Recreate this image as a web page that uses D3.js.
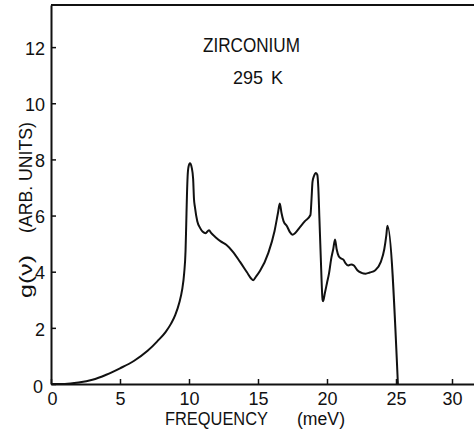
<!DOCTYPE html>
<html>
<head>
<meta charset="utf-8">
<script src="https://cdn.jsdelivr.net/npm/d3@7"></script>
<style>
  html, body { margin: 0; padding: 0; background: #fff; }
  svg { display: block; }
  text { font-family: "Liberation Sans", Arial, sans-serif; fill: #111; }
</style>
</head>
<body>
<svg id="chart" width="474" height="434"></svg>
<script>
// ---- data ----
const freq = [0, 1.0, 2.0, 3.0, 4.0, 5.0, 6.0, 7.0, 7.7, 8.3, 8.7, 9.0, 9.3, 9.5, 9.65, 9.75, 9.8, 9.85, 9.9,
  9.97, 10.07, 10.2, 10.3, 10.36, 10.43, 10.6, 10.8, 11.0, 11.2, 11.45, 11.6, 11.9, 12.3, 12.7, 13.2, 13.7,
  14.2, 14.5, 14.65, 14.85, 15.15, 15.75, 16.2, 16.45, 16.58, 16.7, 16.85, 17.1, 17.3, 17.5, 17.7, 18.0,
  18.4, 18.8, 18.88, 18.95, 19.05, 19.2, 19.3, 19.37, 19.45, 19.55, 19.68, 19.72, 19.85, 20.0, 20.15, 20.3,
  20.45, 20.58, 20.7, 20.85, 21.0, 21.2, 21.35, 21.55, 21.75, 21.95, 22.2, 22.5, 22.8, 23.1, 23.5, 23.9,
  24.15, 24.3, 24.38, 25.17];
const gnu = [0, 0.0, 0.05, 0.15, 0.33, 0.56, 0.82, 1.18, 1.52, 1.85, 2.15, 2.45, 2.9, 3.35, 3.95, 4.75, 5.7, 6.7, 7.4,
  7.75, 7.86, 7.7, 7.3, 6.6, 6.3, 5.8, 5.56, 5.42, 5.37, 5.48, 5.38, 5.24, 5.08, 4.96, 4.7, 4.35,
  3.98, 3.76, 3.7, 3.82, 4.03, 4.67, 5.45, 6.1, 6.43, 6.1, 5.8, 5.62, 5.42, 5.32, 5.38, 5.56,
  5.8, 6.02, 6.6, 7.2, 7.4, 7.52, 7.45, 7.0, 5.9, 4.5, 3.0, 2.95, 3.25, 3.6, 3.95, 4.45,
  4.8, 5.15, 4.8, 4.55, 4.48, 4.42, 4.3, 4.22, 4.26, 4.22, 4.05, 3.96, 3.93, 3.97, 4.05, 4.35,
  4.8, 5.3, 5.64, 0];
const xTicks = [0, 5, 10, 15, 20, 25, 30];
const yTicks = [0, 2, 4, 6, 8, 10, 12];
const titleLines = ["ZIRCONIUM", "295 K"];
const xLabelParts = ["FREQUENCY", "(meV)"];
const yLabelParts = ["g(\u03BD)", "(ARB. UNITS)"];

// ---- scales ----
const svg = d3.select("#chart");
const x = d3.scaleLinear().domain([0, 25, 30, 31.6]).range([51, 396, 452, 474]);
const y = d3.scaleLinear().domain([0, 13.5]).range([384, 5]);

const ink = "#111";

// bottom axis
const gx = svg.append("g").attr("transform", `translate(0,${y(0)})`)
  .call(d3.axisBottom(x).tickValues(xTicks).tickSize(-5).tickSizeOuter(0).tickPadding(8).tickFormat(d3.format("d")));
gx.select(".domain").attr("stroke", ink).attr("stroke-width", 2);
gx.selectAll(".tick line").attr("stroke", ink).attr("stroke-width", 1.5);
gx.selectAll(".tick text").attr("font-size", 18).attr("fill", ink)
  .style("font-family", "'Liberation Sans', Arial, sans-serif");
gx.selectAll(".tick").filter(d => d === 0).select("text").attr("dx", 1);

// left axis
const gy = svg.append("g").attr("transform", `translate(${x(0)},0)`)
  .call(d3.axisLeft(y).tickValues(yTicks).tickSize(-5).tickSizeOuter(0).tickPadding(6).tickFormat(d3.format("d")));
gy.select(".domain").attr("stroke", ink).attr("stroke-width", 2);
gy.selectAll(".tick line").attr("stroke", ink).attr("stroke-width", 1.5);
gy.selectAll(".tick text").attr("font-size", 18).attr("fill", ink).attr("dy", "0.4em")
  .style("font-family", "'Liberation Sans', Arial, sans-serif");
gy.selectAll(".tick").filter(d => d === 0).select("text").attr("dx", -2).attr("dy", "0.45em");

// top frame line
svg.append("line")
  .attr("x1", x.range()[0]).attr("x2", x.range()[x.range().length - 1])
  .attr("y1", y.range()[1]).attr("y2", y.range()[1])
  .attr("stroke", ink).attr("stroke-width", 2);

// curve
const pts = freq.map((f, i) => [f, gnu[i]]);
const line = d3.line().x(d => x(d[0])).y(d => y(d[1])).curve(d3.curveMonotoneX);
svg.append("path").datum(pts)
  .attr("d", line)
  .attr("fill", "none").attr("stroke", ink).attr("stroke-width", 2).attr("stroke-linejoin", "round");

// title text
svg.append("text").attr("x", 203).attr("y", 52).attr("font-size", 20)
  .attr("textLength", 97).attr("lengthAdjust", "spacingAndGlyphs").text(titleLines[0]);
svg.append("text").attr("x", 233).attr("y", 83.5).attr("font-size", 18)
  .style("word-spacing", "3px").text(titleLines[1]);

// x axis label
svg.append("text").attr("x", 165).attr("y", 425).attr("font-size", 18)
  .attr("textLength", 103).attr("lengthAdjust", "spacingAndGlyphs").text(xLabelParts[0]);
svg.append("text").attr("x", 297).attr("y", 425).attr("font-size", 18)
  .attr("textLength", 48).attr("lengthAdjust", "spacingAndGlyphs").text(xLabelParts[1]);

// y axis label (rotated)
svg.append("text").attr("transform", "translate(32,298) rotate(-90)").attr("font-size", 19)
  .attr("textLength", 43).attr("lengthAdjust", "spacingAndGlyphs").text(yLabelParts[0]);
svg.append("text").attr("transform", "translate(32,233) rotate(-90)").attr("font-size", 19)
  .attr("textLength", 111).attr("lengthAdjust", "spacingAndGlyphs").text(yLabelParts[1]);
</script>
</body>
</html>
